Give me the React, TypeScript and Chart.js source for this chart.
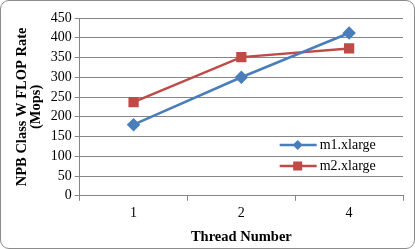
import React, { useEffect, useRef } from "react";
import { Chart, registerables } from "chart.js";

Chart.register(...registerables);

const categories = ["1", "2", "4"];
const m1Values = [180, 300, 412];
const m2Values = [237, 351, 373];
const seriesLabels = ["m1.xlarge", "m2.xlarge"];
const yTicks = [0, 50, 100, 150, 200, 250, 300, 350, 400, 450];

const BLUE = "#4A7EBB";
const RED = "#BE4B48";
const FONT = "'Liberation Serif', 'Times New Roman', serif";

const legendPlugin = {
  id: "insideLegend",
  afterDraw(chart: any) {
    const ctx = chart.ctx;
    const area = chart.chartArea;
    const x0 = area.left + 200;
    const rows = [area.top + 127, area.top + 148];
    chart.data.datasets.forEach((ds: any, i: number) => {
      const y = rows[i];
      ctx.save();
      ctx.strokeStyle = ds.borderColor;
      ctx.lineWidth = 2.5;
      ctx.beginPath();
      ctx.moveTo(x0, y);
      ctx.lineTo(x0 + 37, y);
      ctx.stroke();
      ctx.fillStyle = ds.backgroundColor;
      const cx = x0 + 18;
      if (ds.pointStyle === "rectRot") {
        ctx.beginPath();
        ctx.moveTo(cx, y - 5);
        ctx.lineTo(cx + 5, y);
        ctx.lineTo(cx, y + 5);
        ctx.lineTo(cx - 5, y);
        ctx.closePath();
        ctx.fill();
      } else {
        ctx.fillRect(cx - 4.5, y - 4.5, 9, 9);
      }
      ctx.fillStyle = "#000";
      ctx.font = `14px ${FONT}`;
      ctx.textBaseline = "middle";
      ctx.textAlign = "left";
      ctx.fillText(ds.label, x0 + 40, y);
      ctx.restore();
    });
  },
};

export default function App() {
  const ref = useRef<HTMLCanvasElement>(null);
  useEffect(() => {
    if (!ref.current) return;
    const chart = new Chart(ref.current, {
      type: "line",
      data: {
        labels: categories,
        datasets: [
          {
            label: seriesLabels[0],
            data: m1Values,
            borderColor: BLUE,
            backgroundColor: BLUE,
            borderWidth: 2.5,
            pointStyle: "rectRot",
            pointRadius: 5,
            pointHoverRadius: 5,
            tension: 0,
          },
          {
            label: seriesLabels[1],
            data: m2Values,
            borderColor: RED,
            backgroundColor: RED,
            borderWidth: 2.5,
            pointStyle: "rect",
            pointRadius: 5.5,
            pointHoverRadius: 5.5,
            tension: 0,
          },
        ],
      },
      options: {
        responsive: false,
        animation: false,
        layout: { padding: { top: 18, right: 12, left: 16, bottom: 3 } },
        plugins: {
          legend: { display: false },
          tooltip: { enabled: false },
        },
        scales: {
          x: {
            type: "category",
            offset: true,
            grid: {
              display: true,
              offset: true,
              drawOnChartArea: false,
              drawTicks: true,
              tickLength: 5,
              color: "#868686",
            },
            border: { color: "#868686", width: 1 },
            ticks: {
              color: "#000",
              font: { family: FONT, size: 14 },
              padding: 4,
            },
            title: {
              display: true,
              text: "Thread Number",
              color: "#000",
              font: { family: FONT, size: 14.5, weight: "bold" },
              padding: { top: 3, bottom: 0 },
            },
          },
          y: {
            min: 0,
            max: 450,
            afterBuildTicks(scale: any) {
              scale.ticks = yTicks.map((v) => ({ value: v }));
            },
            grid: {
              color: "#868686",
              tickLength: 5,
              drawTicks: true,
            },
            border: { color: "#868686", width: 1 },
            ticks: {
              color: "#000",
              font: { family: FONT, size: 14 },
              padding: 3,
              autoSkip: false,
            },
            title: {
              display: true,
              text: ["NPB Class W FLOP Rate", "(Mops)"],
              color: "#000",
              font: { family: FONT, size: 14.5, weight: "bold", lineHeight: 0.92 },
              padding: { top: 0, bottom: 5 },
            },
          },
        },
      },
      plugins: [legendPlugin],
    });
    return () => chart.destroy();
  }, []);

  return (
    <div style={{ position: "fixed", left: 0, top: 0, width: 415, height: 249, background: "#fff" }}>
      <div
        style={{
          position: "absolute",
          left: 0,
          top: 0,
          width: 415,
          height: 249,
          boxSizing: "border-box",
          border: "1px solid #8c8c8c",
          borderRadius: 9,
        }}
      />
      <canvas ref={ref} width={415} height={249} style={{ position: "absolute", left: 0, top: 0 }} />
    </div>
  );
}
